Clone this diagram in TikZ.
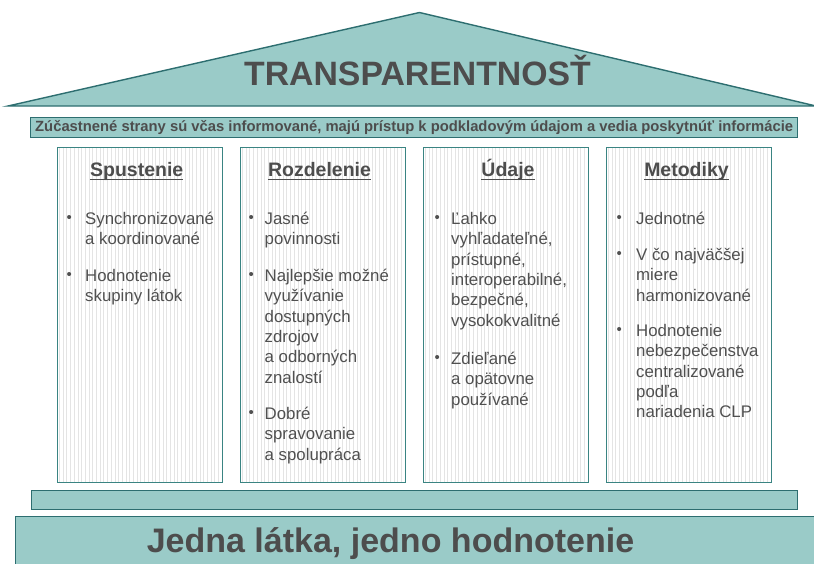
\documentclass[tikz,border=0pt]{standalone}
\usepackage{fontspec}
\setmainfont{Liberation Sans}
\definecolor{housefill}{HTML}{9ACBC8}
\definecolor{houseedge}{HTML}{2D6E70}
\definecolor{coledge}{HTML}{3A8482}
\definecolor{stripegrey}{HTML}{E4E4E4}
\definecolor{headgrey}{HTML}{4D4D4D}
\definecolor{bodygrey}{HTML}{505050}
\newcommand\fstrut{\rule{0pt}{16pt}}
\tikzset{
  tealshape/.style={fill=housefill, draw=houseedge, line width=1.4pt},
  pillar/.style={draw=coledge, fill=white, line width=1.4pt, anchor=north west,
    minimum width=165pt, minimum height=335pt, inner sep=0pt,
    path picture={\foreach \i in {0,...,44}
      \draw[stripegrey, line width=1pt]
        ([xshift=\i*3.7pt+1.8pt]path picture bounding box.north west) --
        ([xshift=\i*3.7pt+1.8pt]path picture bounding box.south west);}},
  hd/.style={anchor=base, inner sep=0pt, text=headgrey,
    font=\fontsize{19.5}{22}\selectfont\bfseries},
  itemtext/.style={anchor=north west, inner sep=0pt, align=left, text=bodygrey,
    font=\fontsize{16.8}{20.4}\selectfont},
  bul/.style={anchor=base west, inner sep=0pt, text=bodygrey,
    font=\fontsize{15}{16}\selectfont},
  uline/.style={draw=headgrey, line width=1.4pt}
}
\begin{document}
\begin{tikzpicture}[x=1pt,y=-1pt]
\useasboundingbox (0,0) rectangle (814,563);
% roof
\coordinate (apex) at (419.5,12.5);
\coordinate (rl) at (8,106);
\coordinate (rr) at (816,106);
\draw[tealshape, line join=miter] (rl) -- (apex) -- (rr) -- cycle;
\node[anchor=base, inner sep=0pt, text=headgrey,
  font=\fontsize{33.8}{36}\selectfont\bfseries] (title) at (417.5,85) {TRANSPARENTNOSŤ};
% band
\node[tealshape, anchor=north west, minimum width=767pt, minimum height=20pt,
  inner sep=0pt, text=headgrey, font=\fontsize{14.8}{16}\selectfont\bfseries]
  (band) at (30,117) {Zúčastnené strany sú včas informované, majú prístup k podkladovým údajom a vedia poskytnúť informácie};
% pillars
\node[pillar] (p1) at (57,147) {};
\node[pillar] (p2) at (240,147) {};
\node[pillar] (p3) at (423,147) {};
\node[pillar] (p4) at (606,147) {};
% headings
\node[hd] (h1) at (136.7,176) {Spustenie};
\node[hd] (h2) at (319.5,176) {Rozdelenie};
\node[hd] (h3) at (508,176) {Údaje};
\node[hd] (h4) at (686.5,176) {Metodiky};
\foreach \h in {h1,h2,h3,h4}
  \draw[uline] ([yshift=-3.2pt]\h.base west) -- ([yshift=-3.2pt]\h.base east);
% column 1
\node[bul] (b11) at (66.5,222.5) {•};
\node[itemtext] (t11) at (85,208) {\fstrut Synchronizované\\a koordinované};
\node[bul] (b12) at (66.5,279.5) {•};
\node[itemtext] (t12) at (85,265) {\fstrut Hodnotenie\\skupiny látok};
% column 2
\node[bul] (b21) at (248.5,222.5) {•};
\node[itemtext] (t21) at (264.5,208) {\fstrut Jasné\\povinnosti};
\node[bul] (b22) at (248.5,279.5) {•};
\node[itemtext] (t22) at (264.5,265) {\fstrut Najlepšie možné\\využívanie\\dostupných\\zdrojov\\a odborných\\znalostí};
\node[bul] (b23) at (248.5,417.5) {•};
\node[itemtext] (t23) at (264.5,403) {\fstrut Dobré\\spravovanie\\a spolupráca};
% column 3
\node[bul] (b31) at (434.5,222.5) {•};
\node[itemtext] (t31) at (451,208) {\fstrut Ľahko\\vyhľadateľné,\\prístupné,\\interoperabilné,\\bezpečné,\\vysokokvalitné};
\node[bul] (b32) at (434.5,362.5) {•};
\node[itemtext] (t32) at (451,348) {\fstrut Zdieľané\\a opätovne\\používané};
% column 4
\node[bul] (b41) at (616.5,222.5) {•};
\node[itemtext] (t41) at (636,208) {\fstrut Jednotné};
\node[bul] (b42) at (616.5,258.5) {•};
\node[itemtext] (t42) at (636,244) {\fstrut V čo najväčšej\\miere\\harmonizované};
\node[bul] (b43) at (616.5,334.5) {•};
\node[itemtext] (t43) at (636,320) {\fstrut Hodnotenie\\nebezpečenstva\\centralizované\\podľa\\nariadenia CLP};
% bottom bar and base
\node[tealshape, anchor=north west, minimum width=766pt, minimum height=19pt,
  inner sep=0pt] (bar) at (30.5,490) {};
\node[tealshape, anchor=north west, minimum width=810pt, minimum height=60pt,
  inner sep=0pt] (base) at (14.5,516) {};
\node[anchor=base, inner sep=0pt, text=headgrey,
  font=\fontsize{34}{36}\selectfont\bfseries] (motto) at (390.5,552) {Jedna látka, jedno hodnotenie};
\end{tikzpicture}
\end{document}
